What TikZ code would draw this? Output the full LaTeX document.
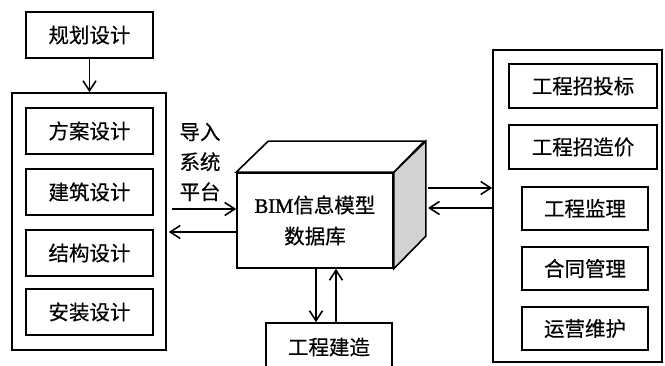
\documentclass[tikz,border=0pt]{standalone}
\usepackage{fontspec}
\setmainfont{Liberation Serif}
\newfontfamily\cjk[FakeBold=0.4]{Noto Sans CJK SC}
\newfontfamily\bimfont[FakeBold=1.2]{Liberation Serif}
\usetikzlibrary{arrows.meta}
\definecolor{faceGray}{RGB}{210,210,210}
\begin{document}
\begin{tikzpicture}[x=1pt,y=-1pt,
  line width=1.6pt,
  box/.style={draw=black, line width=1.6pt, inner sep=0pt, font=\cjk\fontsize{20.5}{24}\selectfont},
  arr/.style={-{Straight Barb[length=10pt,width=13pt,line width=1.6pt]}, line width=1.6pt},
  lbl/.style={inner sep=0pt, align=center, font=\cjk\fontsize{20.5}{30}\selectfont}]
\useasboundingbox (0,0) rectangle (665,366);
% left column
\node[box, minimum width=127pt, minimum height=46pt] (plan) at (89.5,35) {规划设计};
\node[box, minimum width=154pt, minimum height=257pt] (L) at (89,221.5) {};
\node[box, minimum width=127pt, minimum height=46pt] (fa) at (89.5,131) {方案设计};
\node[box, minimum width=127pt, minimum height=46pt] (jz) at (89.5,192) {建筑设计};
\node[box, minimum width=127pt, minimum height=46pt] (jg) at (89.5,253) {结构设计};
\node[box, minimum width=127pt, minimum height=46pt] (az) at (89.5,312) {安装设计};
\draw[arr] (plan.south) -- (plan.south |- L.north);
\node[lbl] (imp) at (200,162) {导入\\系统\\平台};
% cube
\node[box, minimum width=156pt, minimum height=95pt, align=center,
      font=\fontsize{20.5}{31}\selectfont] (db) at (315,220.5)
      {{\bimfont BIM}{\cjk 信息模型}\\{\cjk 数据库}};
\draw[fill=faceGray, line join=miter] (db.north east) -- ++(32,-31) -- ++(0,95) -- (db.south east) -- cycle;
\draw[fill=white, line join=miter] (db.north west) -- ++(32,-31) -- ++(156,0) -- (db.north east) -- cycle;
% left arrows
\draw[arr] ([xshift=5pt,yshift=12.5pt]L.east) -- ([yshift=11.5pt]db.west);
\draw[arr] ([yshift=-11.5pt]db.west) -- ([xshift=2pt,yshift=-10.5pt]L.east);
% right column
\node[box, minimum width=169pt, minimum height=312pt] (R) at (577.5,206) {};
\node[box, minimum width=148pt, minimum height=44pt] (zb) at (583,86) {工程招投标};
\node[box, minimum width=148pt, minimum height=44pt] (zj) at (583,147) {工程招造价};
\node[box, minimum width=126pt, minimum height=43pt] (jl) at (585,208.5) {工程监理};
\node[box, minimum width=126pt, minimum height=43pt] (ht) at (585,268.5) {合同管理};
\node[box, minimum width=126pt, minimum height=43pt] (yy) at (585,328.5) {运营维护};
\coordinate (cr1) at (428,188);
\coordinate (cr2) at (428,208);
\draw[arr] (cr1) -- (R.west |- cr1);
\draw[arr] (R.west |- cr2) -- (cr2);
% bottom
\node[box, minimum width=126pt, minimum height=48pt] (B) at (329,347) {工程建造};
\draw[arr] ([xshift=1pt]db.south) -- ([xshift=-13pt]B.north);
\draw[arr] ([xshift=7pt]B.north) -- ([xshift=21pt]db.south);
\end{tikzpicture}
\end{document}
